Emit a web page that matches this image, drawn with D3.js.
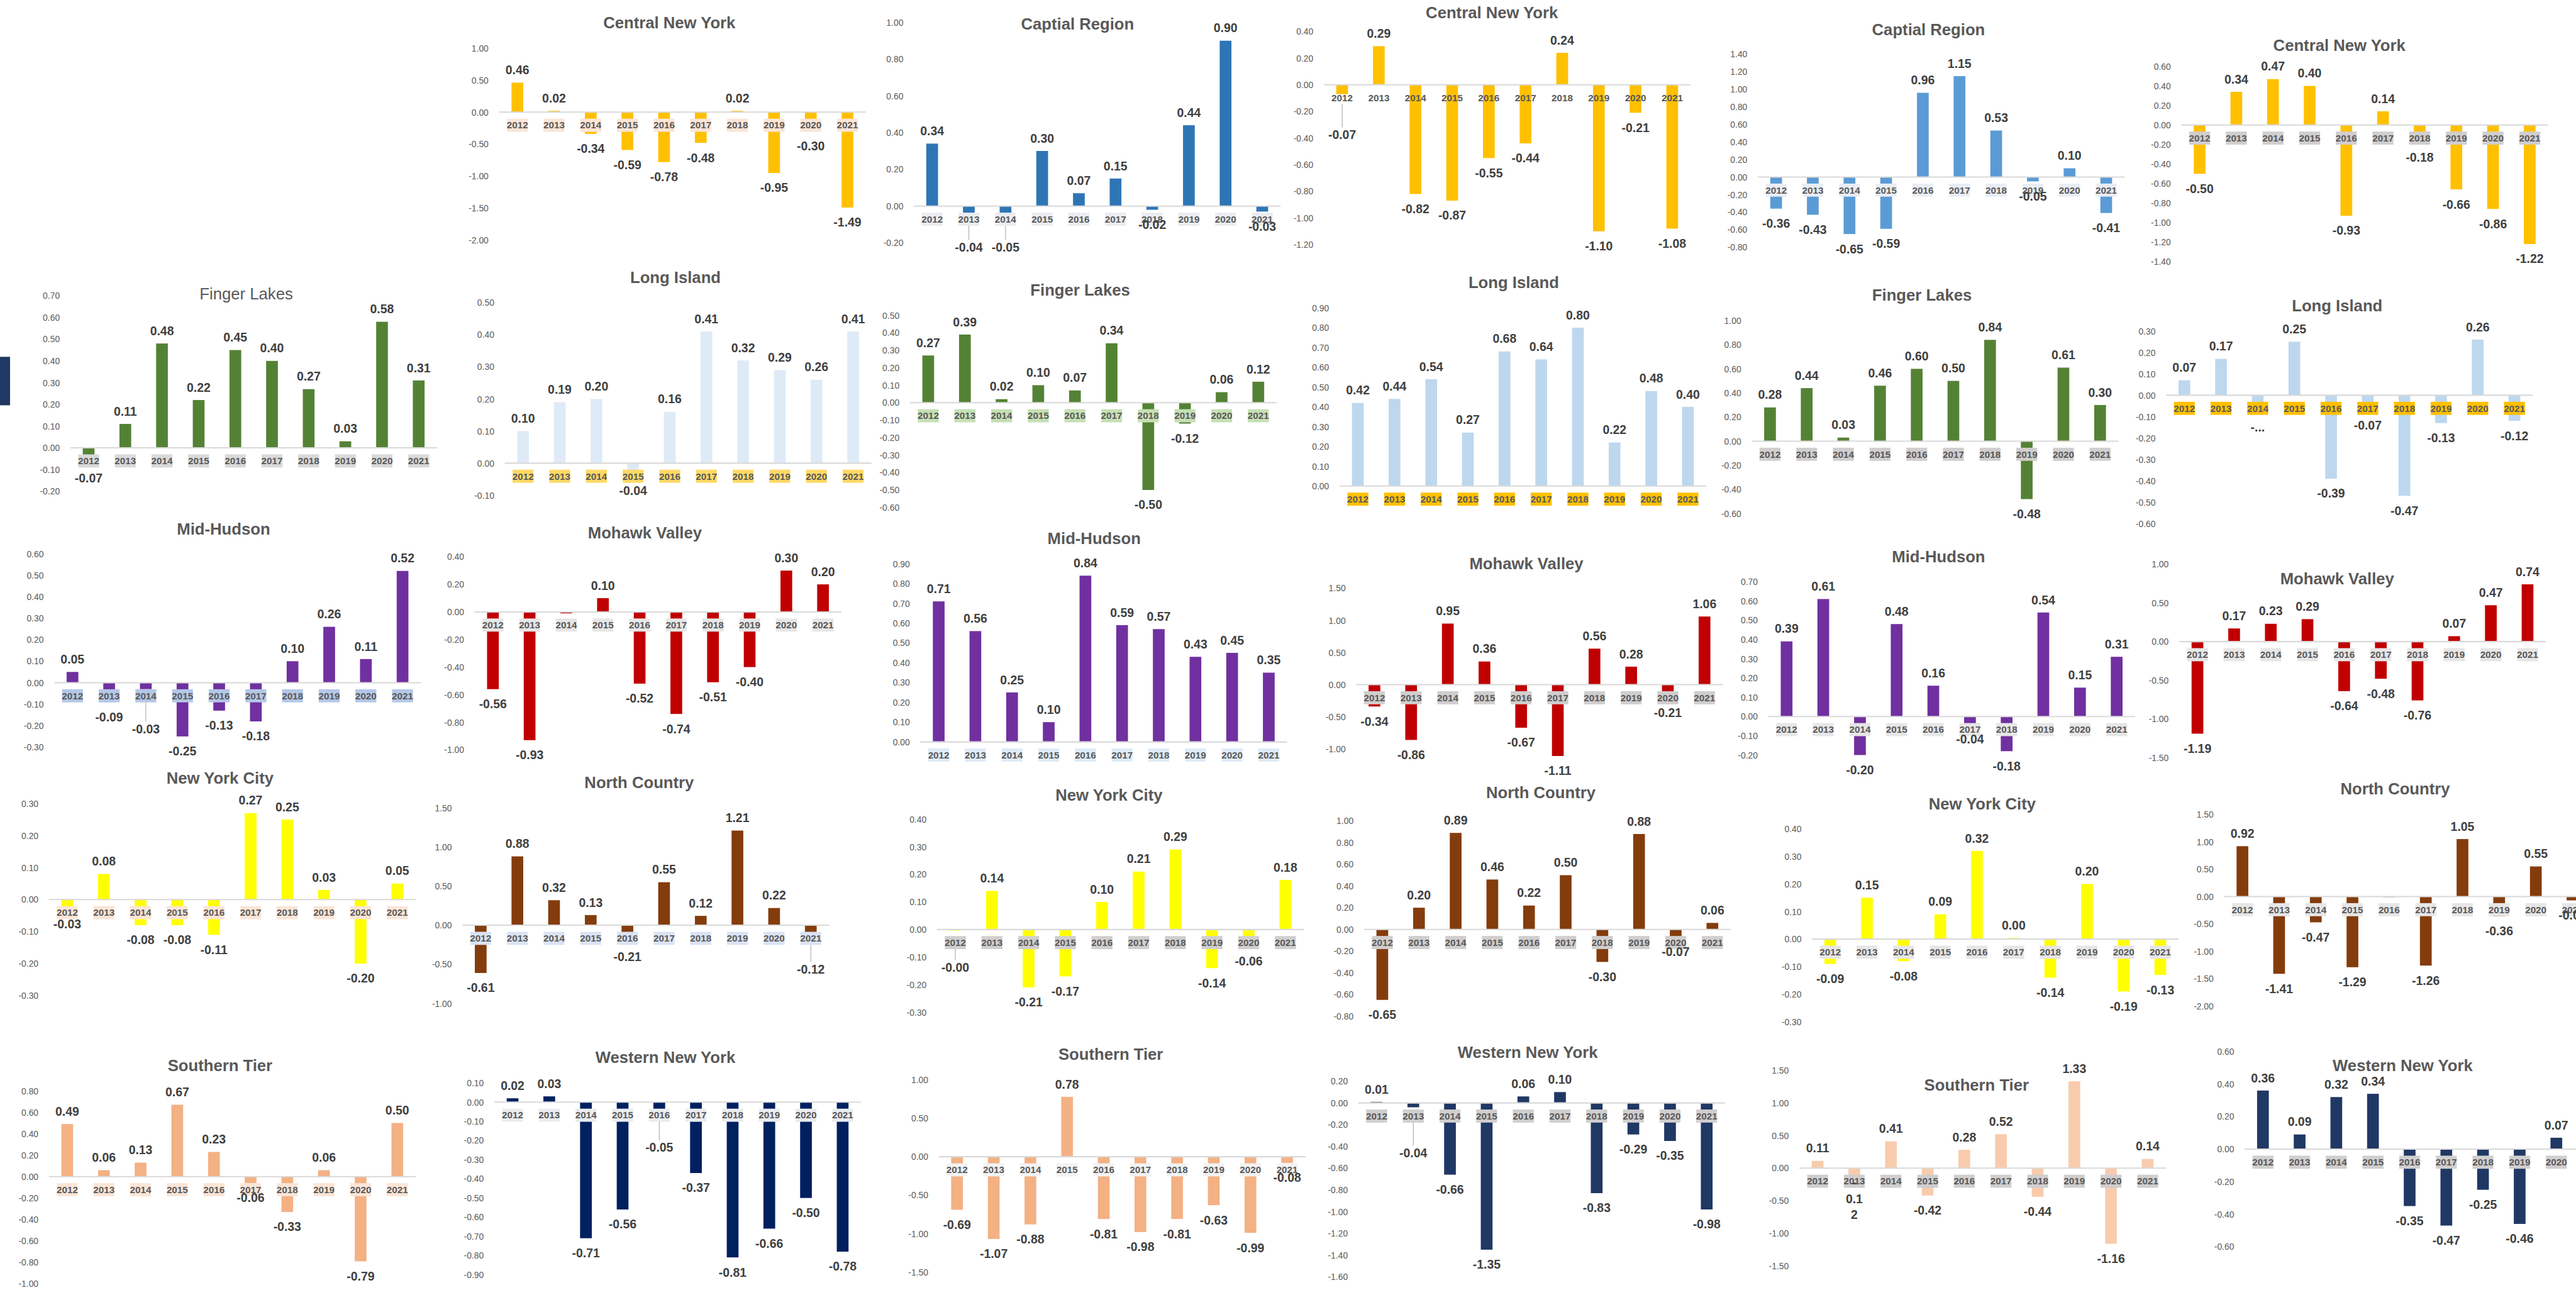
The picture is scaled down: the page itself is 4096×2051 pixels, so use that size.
<!DOCTYPE html>
<html lang="en">
<head>
<meta charset="UTF-8">
<title>Regional change by year, 2012-2021</title>
<script src="https://cdn.jsdelivr.net/npm/d3@7/dist/d3.min.js"></script>
<style>
  body { margin: 0; background: #fff; }
  svg { display: block; background: #fff; }
  text { font-family: "Liberation Sans", Arial, sans-serif; }
</style>
</head>
<body>
<svg id="chart" width="4096" height="2051" viewBox="0 0 5900 2954"></svg>
<script>
// ---- data ----
const years = ["2012", "2013", "2014", "2015", "2016", "2017", "2018", "2019", "2020", "2021"];

const titles = [
  "Central New York", "Captial Region", "Central New York", "Captial Region", "Central New York",
  "Finger Lakes", "Long Island", "Finger Lakes", "Long Island", "Finger Lakes", "Long Island",
  "Mid-Hudson", "Mohawk Valley", "Mid-Hudson", "Mohawk Valley", "Mid-Hudson", "Mohawk Valley",
  "New York City", "North Country", "New York City", "North Country", "New York City", "North Country",
  "Southern Tier", "Western New York", "Southern Tier", "Western New York", "Southern Tier", "Western New York"
];

const centralNY1 = [0.46, 0.02, -0.34, -0.59, -0.78, -0.48, 0.02, -0.95, -0.30, -1.49];
const capital1 = [0.34, -0.04, -0.05, 0.30, 0.07, 0.15, -0.02, 0.44, 0.90, -0.03];
const centralNY2 = [-0.07, 0.29, -0.82, -0.87, -0.55, -0.44, 0.24, -1.10, -0.21, -1.08];
const capital2 = [-0.36, -0.43, -0.65, -0.59, 0.96, 1.15, 0.53, -0.05, 0.10, -0.41];
const centralNY3 = [-0.50, 0.34, 0.47, 0.40, -0.93, 0.14, -0.18, -0.66, -0.86, -1.22];

const fingerLakes1 = [-0.07, 0.11, 0.48, 0.22, 0.45, 0.40, 0.27, 0.03, 0.58, 0.31];
const longIsland1 = [0.10, 0.19, 0.20, -0.04, 0.16, 0.41, 0.32, 0.29, 0.26, 0.41];
const fingerLakes2 = [0.27, 0.39, 0.02, 0.10, 0.07, 0.34, -0.50, -0.12, 0.06, 0.12];
const longIsland2 = [0.42, 0.44, 0.54, 0.27, 0.68, 0.64, 0.80, 0.22, 0.48, 0.40];
const fingerLakes3 = [0.28, 0.44, 0.03, 0.46, 0.60, 0.50, 0.84, -0.48, 0.61, 0.30];
const longIsland3 = [0.07, 0.17, -0.04, 0.25, -0.39, -0.07, -0.47, -0.13, 0.26, -0.12];

const midHudson1 = [0.05, -0.09, -0.03, -0.25, -0.13, -0.18, 0.10, 0.26, 0.11, 0.52];
const mohawk1 = [-0.56, -0.93, -0.01, 0.10, -0.52, -0.74, -0.51, -0.40, 0.30, 0.20];
const midHudson2 = [0.71, 0.56, 0.25, 0.10, 0.84, 0.59, 0.57, 0.43, 0.45, 0.35];
const mohawk2 = [-0.34, -0.86, 0.95, 0.36, -0.67, -1.11, 0.56, 0.28, -0.21, 1.06];
const midHudson3 = [0.39, 0.61, -0.20, 0.48, 0.16, -0.04, -0.18, 0.54, 0.15, 0.31];
const mohawk3 = [-1.19, 0.17, 0.23, 0.29, -0.64, -0.48, -0.76, 0.07, 0.47, 0.74];

const nyc1 = [-0.03, 0.08, -0.08, -0.08, -0.11, 0.27, 0.25, 0.03, -0.20, 0.05];
const northCountry1 = [-0.61, 0.88, 0.32, 0.13, -0.21, 0.55, 0.12, 1.21, 0.22, -0.12];
const nyc2 = [-0.004, 0.14, -0.21, -0.17, 0.10, 0.21, 0.29, -0.14, -0.06, 0.18];
const northCountry2 = [-0.65, 0.20, 0.89, 0.46, 0.22, 0.50, -0.30, 0.88, -0.07, 0.06];
const nyc3 = [-0.09, 0.15, -0.08, 0.09, 0.32, 0.004, -0.14, 0.20, -0.19, -0.13];
const northCountry3 = [0.92, -1.41, -0.47, -1.29, -0.01, -1.26, 1.05, -0.36, 0.55, -0.07];

const southernTier1 = [0.49, 0.06, 0.13, 0.67, 0.23, -0.06, -0.33, 0.06, -0.79, 0.50];
const westernNY1 = [0.02, 0.03, -0.71, -0.56, -0.05, -0.37, -0.81, -0.66, -0.50, -0.78];
const southernTier2 = [-0.69, -1.07, -0.88, 0.78, -0.81, -0.98, -0.81, -0.63, -0.99, -0.08];
const westernNY2 = [0.01, -0.04, -0.66, -1.35, 0.06, 0.10, -0.83, -0.29, -0.35, -0.98];
const southernTier3 = [0.11, -0.12, 0.41, -0.42, 0.28, 0.52, -0.44, 1.33, -1.16, 0.14];
const westernNY3 = [0.36, 0.09, 0.32, 0.34, -0.35, -0.47, -0.25, -0.46, 0.07];

const panelValues = [
  centralNY1, capital1, centralNY2, capital2, centralNY3,
  fingerLakes1, longIsland1, fingerLakes2, longIsland2, fingerLakes3, longIsland3,
  midHudson1, mohawk1, midHudson2, mohawk2, midHudson3, mohawk3,
  nyc1, northCountry1, nyc2, northCountry2, nyc3, northCountry3,
  southernTier1, westernNY1, southernTier2, westernNY2, southernTier3, westernNY3
];

// y axis tick labels: [lowest, highest, step]
const tickRanges = [
  [-2, 1, 0.5], [-0.2, 1, 0.2], [-1.2, 0.4, 0.2], [-0.8, 1.4, 0.2], [-1.4, 0.6, 0.2],
  [-0.2, 0.7, 0.1], [-0.1, 0.5, 0.1], [-0.6, 0.5, 0.1], [0, 0.9, 0.1], [-0.6, 1.0, 0.2], [-0.6, 0.3, 0.1],
  [-0.3, 0.6, 0.1], [-1.0, 0.4, 0.2], [0, 0.9, 0.1], [-1.0, 1.5, 0.5], [-0.2, 0.7, 0.1], [-1.5, 1.0, 0.5],
  [-0.3, 0.3, 0.1], [-1.0, 1.5, 0.5], [-0.3, 0.4, 0.1], [-0.8, 1.0, 0.2], [-0.3, 0.4, 0.1], [-2.0, 1.5, 0.5],
  [-1.0, 0.8, 0.2], [-0.9, 0.1, 0.1], [-1.5, 1.0, 0.5], [-1.6, 0.2, 0.2], [-1.5, 1.5, 0.5], [-0.6, 0.6, 0.2]
];

// ---- layout: first bar centre, y of top/bottom tick, title position, colours ----
const layout = [
  { x: 1185, yTop: 110, yBot: 550, tx: 1533, ty: 52, bar: "#FFC000", box: "#FBE5D6" },
  { x: 2135, yTop: 51, yBot: 556, tx: 2468, ty: 54, bar: "#2E75B6", box: "#EAECF0" },
  { x: 3074, yTop: 72, yBot: 560, tx: 3417, ty: 29, bar: "#FFC000", box: null },
  { x: 4068, yTop: 124, yBot: 566, tx: 4417, ty: 68, bar: "#5B9BD5", box: "#E9EDF4" },
  { x: 5038, yTop: 152, yBot: 599, tx: 5358, ty: 103, bar: "#FFC000", box: "#D0CECE" },

  { x: 203, yTop: 677, yBot: 1125, tx: 564, ty: 673, bar: "#548235", box: "#D9D9D9", light: true },
  { x: 1198, yTop: 693, yBot: 1134, tx: 1547, ty: 635, bar: "#DEEBF7", box: "#FFD966" },
  { x: 2126, yTop: 722, yBot: 1162, tx: 2474, ty: 664, bar: "#548235", box: "#C5E0B4" },
  { x: 3110, yTop: 705, yBot: 1113, tx: 3467, ty: 647, bar: "#BDD7EE", box: "#FFC000" },
  { x: 4054, yTop: 734, yBot: 1176, tx: 4402, ty: 676, bar: "#548235", box: "#D0CECE" },
  { x: 5003, yTop: 758, yBot: 1199, tx: 5353, ty: 700, bar: "#BDD7EE", box: "#FFC000" },

  { x: 166, yTop: 1268, yBot: 1711, tx: 512, ty: 1211, bar: "#7030A0", box: "#B4C7E7" },
  { x: 1129, yTop: 1275, yBot: 1717, tx: 1477, ty: 1220, bar: "#C00000", box: "#E7E6E6" },
  { x: 2150, yTop: 1291, yBot: 1699, tx: 2506, ty: 1233, bar: "#7030A0", box: "#DEEBF7" },
  { x: 3148, yTop: 1347, yBot: 1715, tx: 3496, ty: 1290, bar: "#C00000", box: "#D0CECE" },
  { x: 4092, yTop: 1332, yBot: 1729, tx: 4440, ty: 1275, bar: "#7030A0", box: "#E7E6E6" },
  { x: 5033, yTop: 1292, yBot: 1735, tx: 5353, ty: 1325, bar: "#C00000", box: "#E7E6E6" },

  { x: 154, yTop: 1840, yBot: 2280, tx: 504, ty: 1782, bar: "#FFFF00", box: "#FBE5D6" },
  { x: 1101, yTop: 1850, yBot: 2298, tx: 1464, ty: 1792, bar: "#843C0C", box: "#DAE3F3" },
  { x: 2188, yTop: 1876, yBot: 2318, tx: 2540, ty: 1821, bar: "#FFFF00", box: "#D0CECE" },
  { x: 3166, yTop: 1880, yBot: 2327, tx: 3529, ty: 1815, bar: "#843C0C", box: "#D0CECE" },
  { x: 4192, yTop: 1898, yBot: 2340, tx: 4540, ty: 1841, bar: "#FFFF00", box: "#E7E6E6" },
  { x: 5136, yTop: 1865, yBot: 2304, tx: 5486, ty: 1806, bar: "#843C0C", box: "#E7E6E6" },

  { x: 154, yTop: 2498, yBot: 2940, tx: 504, ty: 2440, bar: "#F4B183", box: "#FBE5D6" },
  { x: 1174, yTop: 2480, yBot: 2919, tx: 1524, ty: 2421, bar: "#002060", box: "#EAECF0" },
  { x: 2192, yTop: 2473, yBot: 2913, tx: 2544, ty: 2414, bar: "#F4B183", box: "#F2F2F2" },
  { x: 3153, yTop: 2476, yBot: 2924, tx: 3499, ty: 2410, bar: "#203864", box: "#D0CECE" },
  { x: 4163, yTop: 2451, yBot: 2899, tx: 4527, ty: 2485, bar: "#F8CBAD", box: "#D0CECE" },
  { x: 5183, yTop: 2408, yBot: 2855, tx: 5503, ty: 2440, bar: "#203864", box: "#D0CECE" }
];

// labels that were dragged away from their bars in the original (panel -> bar -> tweak)
const labelTweaks = {
  1: { 1: { dy: 44, leader: true }, 2: { dy: 40, leader: true } },
  2: { 0: { dy: 59, leader: true } },
  10: { 2: { dy: 19, text: "-..." } },
  11: { 2: { dy: 57, leader: true } },
  12: { 2: { text: "" } },
  18: { 9: { dy: 46, leader: true } },
  19: { 0: { dy: 50, leader: true } },
  22: { 4: { text: "" } },
  24: { 4: { dy: 48, leader: true } },
  26: { 1: { dy: 71, leader: true } },
  27: { 1: { dy: -19, lines: ["-", "0.1", "2"] } }
};

const STEP = 84;          // distance between bar centres
const BOX_W = 48, BOX_H = 30;

const svg = d3.select("#chart");

// stray legend swatch at the left edge
svg.append("rect").attr("x", 0).attr("y", 817).attr("width", 23).attr("height", 111).attr("fill", "#203864");

panelValues.forEach((values, i) => {
  const L = layout[i];
  const [tmin, tmax, tstep] = tickRanges[i];
  const left = L.x - STEP / 2;
  const cats = years.slice(0, values.length);

  const x = d3.scaleBand()
    .domain(years)
    .range([left, left + STEP * years.length])
    .paddingInner(0.68)
    .paddingOuter(0.34);
  const y = d3.scaleLinear().domain([tmin, tmax]).range([L.yBot, L.yTop]);
  const y0 = y(0);
  const cx = d => x(d) + x.bandwidth() / 2;

  const g = svg.append("g").attr("class", "panel");

  // y axis labels
  const nTicks = Math.round((tmax - tmin) / tstep) + 1;
  const tickVals = d3.range(nTicks).map(k => +(tmin + k * tstep).toFixed(4));
  const ax = g.append("g")
    .attr("transform", `translate(${left - 24},0)`)
    .call(d3.axisLeft(y).tickValues(tickVals).tickSize(0).tickPadding(0)
      .tickFormat(d => d.toFixed(2)));
  ax.select(".domain").remove();
  ax.selectAll("text")
    .attr("font-family", "Liberation Sans, Arial, sans-serif")
    .attr("font-size", 20)
    .attr("fill", "#595959")
    .attr("dy", "0.35em");

  // bars
  g.selectAll("rect.bar")
    .data(values)
    .join("rect")
    .attr("class", "bar")
    .attr("x", (d, k) => x(cats[k]))
    .attr("width", x.bandwidth())
    .attr("y", d => Math.min(y(d), y0))
    .attr("height", d => Math.abs(y(d) - y0))
    .attr("fill", L.bar);

  // zero line
  g.append("line")
    .attr("x1", left).attr("x2", left + STEP * years.length)
    .attr("y1", y0).attr("y2", y0)
    .attr("stroke", "#D9D9D9").attr("stroke-width", 3);

  // category boxes + year labels
  if (L.box) {
    g.selectAll("rect.box")
      .data(cats)
      .join("rect")
      .attr("class", "box")
      .attr("x", d => cx(d) - BOX_W / 2)
      .attr("y", y0 + 15)
      .attr("width", BOX_W)
      .attr("height", BOX_H)
      .attr("fill", L.box);
  }
  g.selectAll("text.year")
    .data(cats)
    .join("text")
    .attr("class", "year")
    .attr("x", cx)
    .attr("y", y0 + 30)
    .attr("dy", "0.35em")
    .attr("text-anchor", "middle")
    .attr("font-size", 22)
    .attr("font-weight", "bold")
    .attr("fill", "#595959")
    .text(d => d);

  // data labels
  const tweaks = labelTweaks[i] || {};
  values.forEach((v, k) => {
    const t = tweaks[k] || {};
    const base = v >= 0 ? y(v) - 29 : y(v) + 34;
    const cy = base + (t.dy || 0);
    const px = cx(cats[k]);
    if (t.leader) {
      g.append("line")
        .attr("x1", px).attr("x2", px)
        .attr("y1", y0 + 45).attr("y2", cy - 17)
        .attr("stroke", "#A6A6A6").attr("stroke-width", 1.5);
    }
    const lab = g.append("text")
      .attr("class", "value")
      .attr("x", px)
      .attr("text-anchor", "middle")
      .attr("font-size", 28)
      .attr("font-weight", "bold")
      .attr("fill", "#404040");
    if (t.lines) {
      t.lines.forEach((s, j) => {
        lab.append("tspan").attr("x", px).attr("y", cy + j * 37).attr("dy", "0.35em").text(s);
      });
    } else {
      lab.attr("y", cy).attr("dy", "0.35em").text(t.text !== undefined ? t.text : v.toFixed(2));
    }
  });

  // title
  g.append("text")
    .attr("x", L.tx)
    .attr("y", L.ty)
    .attr("dy", "0.35em")
    .attr("text-anchor", "middle")
    .attr("font-size", 37)
    .attr("font-weight", L.light ? "normal" : "bold")
    .attr("fill", "#595959")
    .text(titles[i]);
});
</script>
</body>
</html>
